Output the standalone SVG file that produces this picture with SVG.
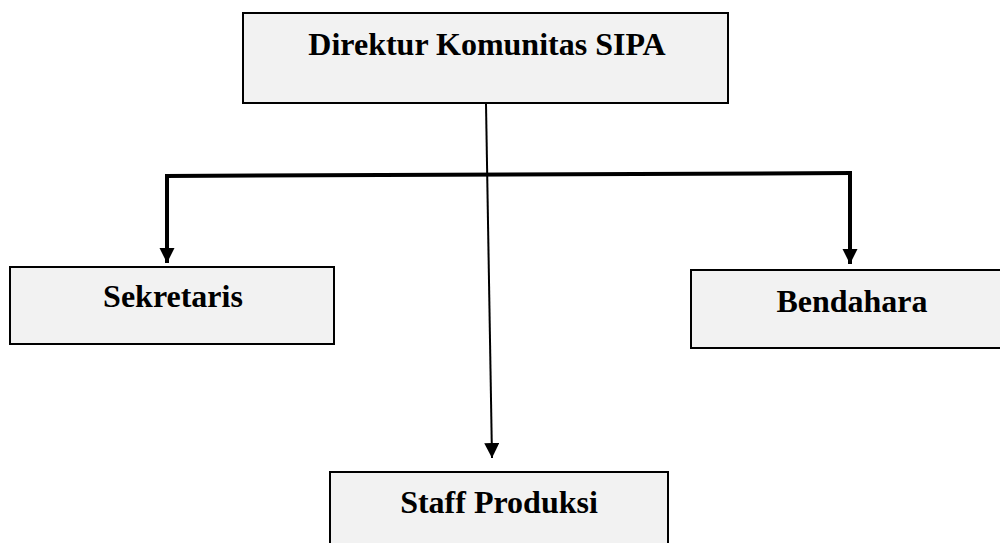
<svg xmlns="http://www.w3.org/2000/svg" width="1000" height="543" viewBox="0 0 1000 543">
<defs>
<style>
.box{fill:#f2f2f2;stroke:#000;stroke-width:2}
.lbl{font-family:"Liberation Serif","Times New Roman",serif;font-weight:bold;font-size:32px;fill:#000;text-anchor:middle}
.thick{stroke:#000;stroke-width:4;fill:none}
.thin{stroke:#000;stroke-width:2;fill:none}
</style>
<marker id="arr" markerUnits="userSpaceOnUse" markerWidth="16" markerHeight="16" refX="15" refY="7.5" orient="auto" viewBox="0 0 16 16">
<path d="M0,0 L15,7.5 L0,15 z" fill="#000"/>
</marker>
</defs>
<rect width="1000" height="543" fill="#fff"/>
<g id="connectors">
<line class="thin" x1="486" y1="104" x2="492" y2="458" marker-end="url(#arr)"/>
<line class="thick" x1="165" y1="176" x2="852" y2="173"/>
<line class="thick" x1="167" y1="175" x2="167" y2="263" marker-end="url(#arr)"/>
<line class="thick" x1="850" y1="172" x2="850" y2="264" marker-end="url(#arr)"/>
</g>
<g id="node-direktur">
<rect class="box" x="243" y="13" width="485" height="90"/>
<text class="lbl" x="487" y="55">Direktur Komunitas SIPA</text>
</g>
<g id="node-sekretaris">
<rect class="box" x="10" y="267" width="324" height="77"/>
<text class="lbl" x="173" y="307">Sekretaris</text>
</g>
<g id="node-bendahara">
<rect class="box" x="691" y="270" width="323" height="78"/>
<text class="lbl" x="852" y="312">Bendahara</text>
</g>
<g id="node-staff">
<rect class="box" x="330" y="472" width="338" height="90"/>
<text class="lbl" x="499" y="513">Staff Produksi</text>
</g>
</svg>
